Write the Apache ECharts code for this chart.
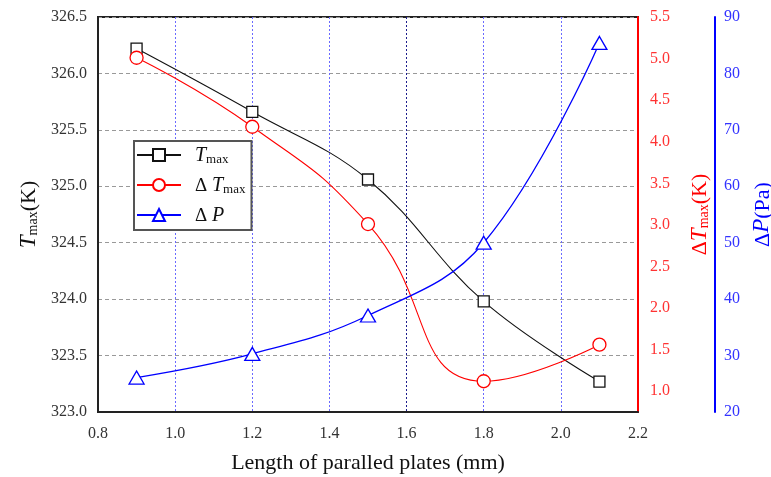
<!DOCTYPE html>
<html>
<head>
<meta charset="utf-8">
<script src="https://cdn.jsdelivr.net/npm/echarts@6/dist/echarts.min.js"></script>
<style>
  html, body { margin: 0; padding: 0; background: #fff; }
  #chart { width: 771px; height: 477px; }
</style>
</head>
<body>
<div id="chart"></div>
<script>
// Plate length (mm)
const plateLength = [0.9, 1.2, 1.5, 1.8, 2.1];
// Maximum temperature (K)
const tMax = [326.22, 325.66, 325.06, 323.98, 323.27];
// Maximum temperature difference (K)
const deltaTMax = [5.01, 4.18, 3.01, 1.12, 1.56];
// Pressure drop (Pa)
const deltaP = [26.1, 30.3, 37.1, 50.0, 85.4];

// Tick labels
const xTicks = [0.8, 1.0, 1.2, 1.4, 1.6, 1.8, 2.0, 2.2];
const deltaTTicks = [1.0, 1.5, 2.0, 2.5, 3.0, 3.5, 4.0, 4.5, 5.0, 5.5];

const FONT = '"Liberation Serif", "DejaVu Serif", serif';
const pairs = (ys) => plateLength.map((x, i) => [x, ys[i]]);

const sub = (color, size) => ({
  fontFamily: FONT, fontSize: size, color: color, verticalAlign: 'bottom', lineHeight: size + 4
});
const ital = (color, size) => ({
  fontFamily: FONT, fontSize: size, color: color, fontStyle: 'italic', verticalAlign: 'bottom', lineHeight: size + 2
});
const plain = (color, size) => ({
  fontFamily: FONT, fontSize: size, color: color, verticalAlign: 'bottom', lineHeight: size + 2
});

const chart = echarts.init(document.getElementById('chart'), null, { renderer: 'canvas' });

// the 1.6 mm guide is drawn darker than the others
const vGridColors = xTicks.map(v => Math.abs(v - 1.6) < 1e-6 ? '#1c1c8c' : '#6a6aff');

chart.setOption({
  animation: false,
  backgroundColor: '#fff',
  grid: {
    left: 98, right: 133, top: 17, bottom: 65,
    outerBoundsMode: 'none',
    show: true, borderColor: '#222', borderWidth: 2, backgroundColor: 'transparent'
  },
  legend: {
    left: 134, top: 141,
    orient: 'vertical',
    backgroundColor: '#fff',
    borderColor: '#555', borderWidth: 2,
    padding: [5, 6, 4, 2],
    itemWidth: 44, itemHeight: 15, itemGap: 10,
    data: ['Tmax', 'ΔTmax', 'ΔP'],
    formatter: function (name) {
      if (name === 'Tmax') return '{it|T}{sb|max}';
      if (name === 'ΔTmax') return '{pl|Δ }{it|T}{sb|max}';
      return '{pl|Δ }{it|P}';
    },
    textStyle: {
      padding: [0, 0, 0, 9],
      rich: {
        it: ital('#111', 20),
        sb: sub('#111', 13),
        pl: plain('#111', 19)
      }
    }
  },
  xAxis: {
    type: 'value',
    min: 0.8, max: 2.2, interval: 0.2,
    name: 'Length of paralled plates (mm)',
    nameLocation: 'middle', nameGap: 40,
    nameTextStyle: { fontFamily: FONT, fontSize: 22, color: '#111' },
    axisLine: { show: true, onZero: false, lineStyle: { color: '#222', width: 2 } },
    axisTick: { show: false },
    axisLabel: {
      margin: 14, fontFamily: FONT, fontSize: 16, color: '#333',
      formatter: v => v.toFixed(1)
    },
    splitLine: {
      show: true,
      lineStyle: { color: vGridColors, type: [2, 2], width: 1 }
    }
  },
  yAxis: [
    {
      type: 'value', position: 'left',
      min: 323, max: 326.5, interval: 0.5,
      name: '{it|T}{sb|max}{pl|(K)}',
      nameLocation: 'middle', nameGap: 57, nameRotate: 90,
      nameTextStyle: {
        rich: { it: ital('#111', 23), sb: sub('#111', 14), pl: plain('#111', 22) }
      },
      axisLine: { show: true, lineStyle: { color: '#222', width: 2 } },
      axisTick: { show: false },
      axisLabel: {
        margin: 11, fontFamily: FONT, fontSize: 16, color: '#333',
        formatter: v => v.toFixed(1)
      },
      splitLine: { show: true, lineStyle: { color: '#999', type: [4, 3], width: 1 } }
    },
    {
      type: 'value', position: 'right',
      min: 0.75, max: 5.5,
      name: '{pl|Δ}{it|T}{sb|max}{pl|(K)}',
      nameLocation: 'middle', nameGap: 48, nameRotate: 90,
      nameTextStyle: {
        rich: { it: ital('#ff0000', 23), sb: sub('#ff0000', 14), pl: plain('#ff0000', 22) }
      },
      axisLine: { show: true, lineStyle: { color: '#ff0000', width: 2 } },
      axisTick: { show: false },
      axisLabel: {
        margin: 12, fontFamily: FONT, fontSize: 16, color: '#ff3333',
        customValues: deltaTTicks,
        formatter: v => v.toFixed(1)
      },
      splitLine: { show: false }
    },
    {
      type: 'value', position: 'right', offset: 77,
      min: 20, max: 90, interval: 10,
      name: '{pl|Δ}{it|P}{pl|(Pa)}',
      nameLocation: 'middle', nameGap: 31, nameRotate: 90,
      nameTextStyle: {
        rich: { it: ital('#0000ff', 23), pl: plain('#0000ff', 22) }
      },
      axisLine: { show: true, lineStyle: { color: '#0000ff', width: 2 } },
      axisTick: { show: false },
      axisLabel: {
        margin: 9, fontFamily: FONT, fontSize: 16, color: '#3333ff',
        formatter: v => String(v)
      },
      splitLine: { show: false }
    }
  ],
  series: [
    {
      name: 'Tmax', type: 'line', yAxisIndex: 0,
      data: pairs(tMax), smooth: 0.4,
      symbol: 'rect', symbolSize: 11,
      lineStyle: { color: '#111', width: 1.1 },
      itemStyle: { color: '#fff', borderColor: '#111', borderWidth: 1.3 },
      z: 3
    },
    {
      name: 'ΔTmax', type: 'line', yAxisIndex: 1,
      data: pairs(deltaTMax), smooth: 0.5,
      symbol: 'circle', symbolSize: 13,
      lineStyle: { color: '#ff0000', width: 1.1 },
      itemStyle: { color: '#fff', borderColor: '#ff0000', borderWidth: 1.3 },
      z: 4
    },
    {
      name: 'ΔP', type: 'line', yAxisIndex: 2,
      data: pairs(deltaP), smooth: 0.4,
      symbol: 'triangle', symbolSize: [15, 13],
      lineStyle: { color: '#0000ff', width: 1.3 },
      itemStyle: { color: '#fff', borderColor: '#0000ff', borderWidth: 1.3 },
      z: 5
    }
  ]
});
</script>
</body>
</html>
